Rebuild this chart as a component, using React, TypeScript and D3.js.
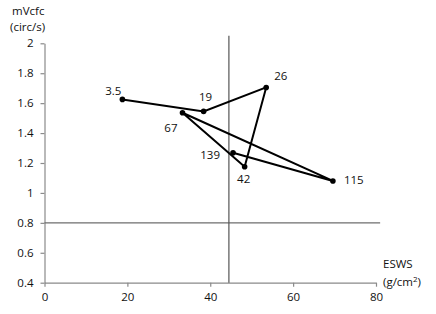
import React, { useEffect, useRef } from "react";
import * as d3 from "d3";

// ESWS (g/cm2) vs mVcfc (circ/s), labelled by day
const days = ["3.5", "19", "26", "42", "67", "115", "139"];
const eswsValues = [18.8, 38.4, 53.5, 48.3, 33.3, 69.6, 45.5];
const mvcfcValues = [1.625, 1.545, 1.705, 1.175, 1.536, 1.08, 1.268];
const xTicks = [0, 20, 40, 60, 80];
const yTicks = [0.4, 0.6, 0.8, 1, 1.2, 1.4, 1.6, 1.8, 2];
const eswsThreshold = 44.5;
const mvcfcThreshold = 0.8;

// label offsets per point [dx, dy, anchor]
const labelPos: [number, number, string][] = [
  [-1, -4, "end"],
  [2, -10, "middle"],
  [8, -7, "start"],
  [-1, 16, "middle"],
  [-5, 19, "end"],
  [11, 3, "start"],
  [-13, 6, "end"],
];

const App = () => {
  const ref = useRef<SVGSVGElement>(null);
  const width = 436;
  const height = 314;

  useEffect(() => {
    const svg = d3.select(ref.current);
    svg.selectAll("*").remove();
    const font = "'Open Sans', 'Liberation Sans', sans-serif";
    const fs = "11.5px";

    const x = d3.scaleLinear().domain([0, 80]).range([44.5, 376]);
    const y = d3.scaleLinear().domain([0.4, 2]).range([282.7, 43.3]);

    // Axes
    const xAxis = svg
      .append("g")
      .attr("transform", `translate(0,${y(0.4)})`)
      .call(d3.axisBottom(x).tickValues(xTicks).tickSize(4).tickSizeOuter(0).tickPadding(6));
    const yAxis = svg
      .append("g")
      .attr("transform", `translate(${x(0)},0)`)
      .call(
        d3
          .axisLeft(y)
          .tickValues(yTicks)
          .tickSize(4)
          .tickSizeOuter(0)
          .tickPadding(7)
          .tickFormat((d) => String(d))
      );
    [xAxis, yAxis].forEach((g) => {
      g.selectAll("path, line").attr("stroke", "#8a8a8a").attr("stroke-width", 1.2);
      g.selectAll("text")
        .attr("fill", "#111")
        .style("font-family", font)
        .style("font-size", fs);
    });

    // Reference lines
    svg
      .append("line")
      .attr("x1", x(0))
      .attr("x2", x(81))
      .attr("y1", y(mvcfcThreshold))
      .attr("y2", y(mvcfcThreshold))
      .attr("stroke", "#6e6e6e")
      .attr("stroke-width", 1.2);
    svg
      .append("line")
      .attr("x1", x(eswsThreshold))
      .attr("x2", x(eswsThreshold))
      .attr("y1", y(0.4))
      .attr("y2", y(2.05))
      .attr("stroke", "#555")
      .attr("stroke-width", 1.2);

    const pts = days.map((d, i) => ({ day: d, x: eswsValues[i], y: mvcfcValues[i] }));

    const line = d3
      .line<{ x: number; y: number }>()
      .x((d) => x(d.x))
      .y((d) => y(d.y));

    svg
      .append("path")
      .datum(pts)
      .attr("fill", "none")
      .attr("stroke", "#000")
      .attr("stroke-width", 2)
      .attr("d", line);

    svg
      .selectAll("circle.pt")
      .data(pts)
      .enter()
      .append("circle")
      .attr("class", "pt")
      .attr("cx", (d) => x(d.x))
      .attr("cy", (d) => y(d.y))
      .attr("r", 2.8)
      .attr("fill", "#000");

    svg
      .selectAll("text.lbl")
      .data(pts)
      .enter()
      .append("text")
      .attr("class", "lbl")
      .attr("x", (d, i) => x(d.x) + labelPos[i][0])
      .attr("y", (d, i) => y(d.y) + labelPos[i][1])
      .attr("text-anchor", (d, i) => labelPos[i][2])
      .style("font-family", font)
      .style("font-size", fs)
      .attr("fill", "#111")
      .text((d) => d.day);

    // Axis titles
    const yTitle = svg
      .append("text")
      .style("font-family", font)
      .style("font-size", fs)
      .attr("fill", "#111");
    yTitle.append("tspan").attr("x", 12).attr("y", 15).text("mVcfc");
    yTitle.append("tspan").attr("x", 10).attr("y", 31).text("(circ/s)");

    const xTitle = svg
      .append("text")
      .style("font-family", font)
      .style("font-size", fs)
      .attr("fill", "#111");
    xTitle.append("tspan").attr("x", 383).attr("y", 268).text("ESWS");
    const t2 = xTitle.append("tspan").attr("x", 383).attr("y", 286);
    t2.append("tspan").text("(g/cm");
    t2.append("tspan").attr("dy", -4).style("font-size", "8px").text("2");
    t2.append("tspan").attr("dy", 4).text(")");
  }, []);

  return (
    <svg
      ref={ref}
      width={width}
      height={height}
      style={{ position: "absolute", left: 0, top: 0, background: "#fff" }}
    ></svg>
  );
};

export default App;
